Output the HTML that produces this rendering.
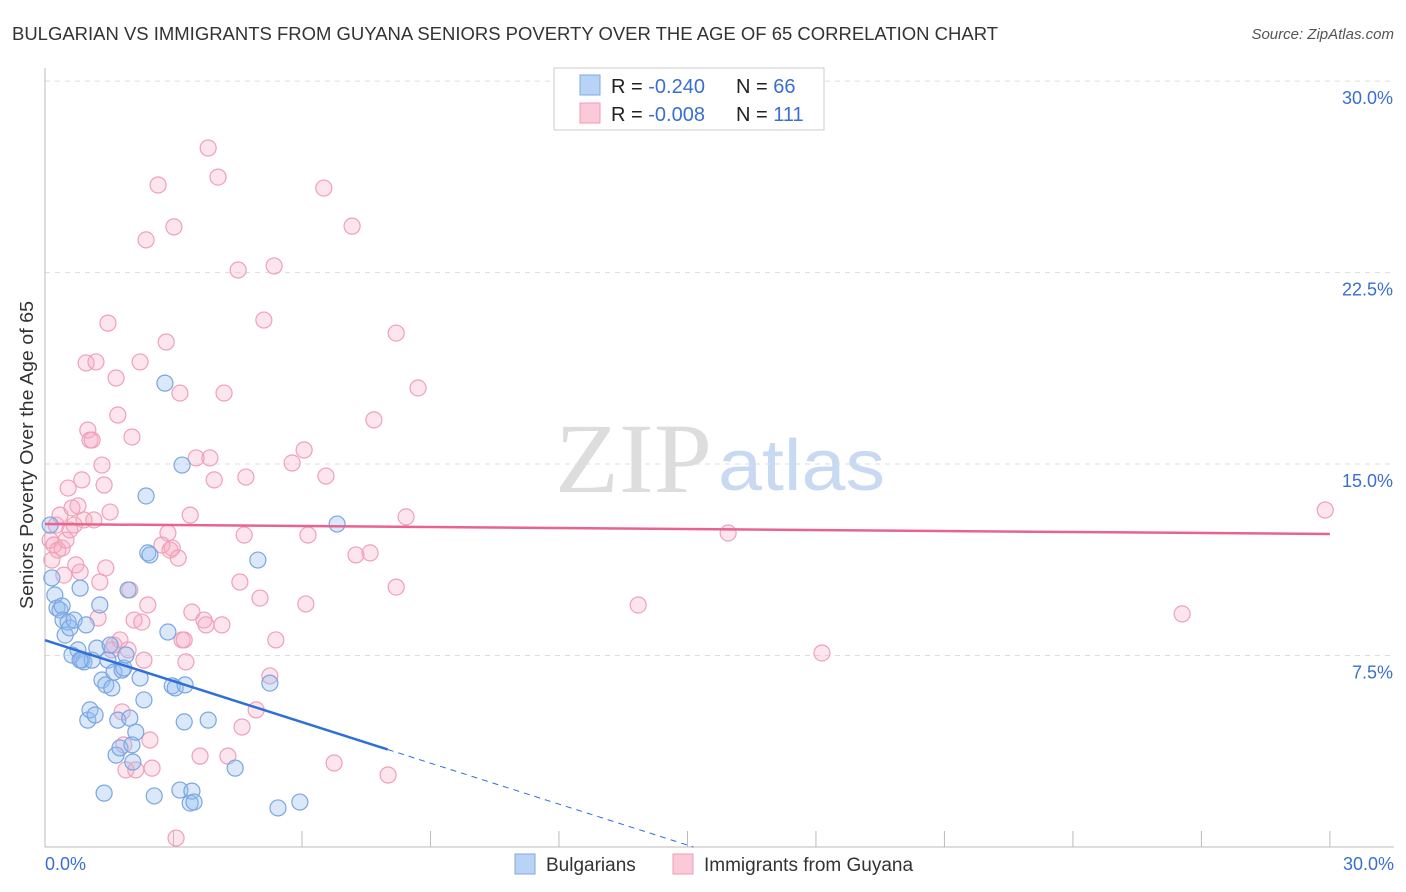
<!DOCTYPE html>
<html><head><meta charset="utf-8"><style>
body{margin:0;background:#fff;font-family:"Liberation Sans",sans-serif;}
svg{display:block}
</style></head><body>
<svg id="chart" width="1406" height="892">
<text x="12" y="40" font-size="18" fill="#333" textLength="986" lengthAdjust="spacingAndGlyphs">BULGARIAN VS IMMIGRANTS FROM GUYANA SENIORS POVERTY OVER THE AGE OF 65 CORRELATION CHART</text>
<text x="1394" y="39" font-size="15" fill="#555" font-style="italic" text-anchor="end">Source: ZipAtlas.com</text>
<text transform="translate(33,455) rotate(-90)" font-size="18" fill="#333" text-anchor="middle" textLength="308" lengthAdjust="spacingAndGlyphs">Seniors Poverty Over the Age of 65</text>
<text x="555" y="492" font-size="100" fill="#ddd" font-family="Liberation Serif,serif" textLength="157" lengthAdjust="spacingAndGlyphs">ZIP</text>
<text x="718" y="490" font-size="72" fill="#c8daf2" textLength="167" lengthAdjust="spacingAndGlyphs">atlas</text>
<g id="grid"></g><g id="pink"></g><g id="blue"></g><g id="lines"></g>
<g>
<rect x="554" y="68" width="270" height="62" fill="#fff" stroke="#ccc"/>
<rect x="580" y="75" width="20" height="20" fill="#b9d3f6" stroke="#7fa8e0"/>
<rect x="580" y="103" width="20" height="20" fill="#fbc9d8" stroke="#f09ab5"/>
<text x="611" y="93" font-size="20" fill="#222">R = <tspan fill="#3a6fd0">-0.240</tspan><tspan x="736">N = </tspan><tspan fill="#3a6fd0">66</tspan></text>
<text x="611" y="121" font-size="20" fill="#222">R = <tspan fill="#3a6fd0">-0.008</tspan><tspan x="736">N = </tspan><tspan fill="#3a6fd0">111</tspan></text>
</g>
<g>
<rect x="515" y="854" width="20" height="20" fill="#b9d3f6" stroke="#7fa8e0"/>
<text x="546" y="871" font-size="19" fill="#333">Bulgarians</text>
<rect x="673" y="854" width="20" height="20" fill="#fbc9d8" stroke="#f09ab5"/>
<text x="704" y="871" font-size="19" fill="#333">Immigrants from Guyana</text>
</g>
</svg>
<script>
const blueX=[0.12,0.16,0.23,0.28,0.35,0.40,0.42,0.47,0.54,0.58,0.63,0.68,0.77,0.82,0.86,0.91,0.96,1.00,1.05,1.10,1.17,1.21,1.28,1.33,1.38,1.42,1.47,1.52,1.56,1.61,1.66,1.70,1.75,1.80,1.84,1.89,1.94,1.98,2.03,2.05,2.12,2.22,2.31,2.36,2.40,2.45,2.55,2.80,2.87,2.97,3.04,3.15,3.20,3.25,3.27,3.39,3.43,3.48,3.81,4.44,4.97,5.25,5.44,5.95,6.82,0.82];
const blueY=[12.61,10.54,9.87,9.36,9.28,9.44,8.89,8.30,8.81,8.58,7.52,8.89,7.72,10.14,7.32,7.25,8.70,4.97,5.37,7.32,5.17,7.79,9.48,6.54,2.11,6.35,7.32,7.91,6.23,6.85,3.60,4.97,3.88,6.93,7.01,7.52,10.07,5.05,4.00,3.33,4.50,6.62,5.76,13.75,11.52,11.44,2.00,18.17,8.42,6.31,6.23,2.23,14.96,4.90,6.35,1.72,2.19,1.76,4.97,3.09,11.24,6.42,1.53,1.76,12.65,7.32];
const pinkX=[0.12,0.16,0.21,0.26,0.30,0.35,0.40,0.44,0.49,0.54,0.58,0.63,0.68,0.72,0.77,0.82,0.86,0.91,0.96,1.00,1.05,1.10,1.14,1.19,1.24,1.28,1.33,1.38,1.42,1.47,1.52,1.56,1.61,1.66,1.70,1.75,1.80,1.84,1.89,1.94,1.98,2.03,2.08,2.12,2.22,2.26,2.31,2.36,2.40,2.45,2.50,2.64,2.73,2.83,2.87,2.92,2.97,3.01,3.06,3.11,3.15,3.20,3.25,3.29,3.39,3.43,3.53,3.62,3.71,3.76,3.81,3.85,3.95,4.04,4.13,4.18,4.27,4.55,4.51,4.60,4.65,4.69,4.93,5.02,5.11,5.25,5.35,5.39,5.77,6.05,6.09,6.14,6.51,6.56,6.75,7.17,7.26,7.59,7.68,8.20,8.20,8.01,8.43,8.71,13.85,15.95,18.14,26.55,29.89];
const pinkY=[12.02,11.24,11.83,12.61,11.63,13.00,11.71,10.65,12.02,14.06,12.42,13.28,12.61,11.05,13.36,10.77,14.38,12.81,18.96,16.33,15.94,15.94,12.81,19.00,8.97,10.38,14.96,14.18,10.93,20.52,13.12,7.72,7.91,18.37,16.92,8.11,5.29,4.00,3.02,7.72,10.07,16.06,8.89,3.02,19.00,8.81,7.32,23.78,9.48,4.19,3.09,25.93,11.83,19.78,12.30,11.63,11.71,24.29,0.35,11.32,17.78,8.11,8.11,7.25,13.00,9.20,15.24,3.56,8.89,8.70,27.38,15.24,14.38,26.24,8.70,17.78,3.56,10.38,22.60,4.70,12.22,14.49,5.37,9.75,20.64,6.70,22.76,8.11,15.04,15.55,9.52,12.22,25.81,14.53,3.29,24.32,11.44,11.52,16.73,20.13,10.18,2.82,12.93,17.98,9.48,12.30,7.60,9.13,13.20];
const yTicks=[7.5,15.0,22.5,30.0];
const xTicks=[0,3,6,9,12,15,18,21,24,27,30];
const blueFit=[8.1,-0.535], pinkFit=[12.65,-0.013];
const NS='http://www.w3.org/2000/svg';
const X=v=>45+v*42.83, Y=v=>847-v*25.53;
function mk(p,t,a){const e=document.createElementNS(NS,t);for(const k in a)e.setAttribute(k,a[k]);p.appendChild(e);return e;}
const grid=document.getElementById('grid');
yTicks.forEach(t=>{
 const l=mk(grid,'line',{x1:45,x2:1394,y1:Y(t),y2:Y(t),stroke:'#ddd','stroke-dasharray':'5,5'});
 
 
 const tx=mk(grid,'text',{x:1393,y:Y(t)+23,'font-size':18,fill:'#3a6fd0','text-anchor':'end'});tx.textContent=t.toFixed(1)+'%';
 
 
});
mk(grid,'line',{x1:45,x2:45,y1:68,y2:847,stroke:'#bbb'});
mk(grid,'line',{x1:45,x2:1394,y1:847,y2:847,stroke:'#bbb'});
xTicks.forEach(t=>{const l=mk(grid,'line',{x1:X(t),x2:X(t),y1:831,y2:847,stroke:'#bbb'});
 
 });
[[0,'start',45],[30,'end',1394]].forEach(([t,a,x])=>{const tx=mk(grid,'text',{x:x,y:870,'font-size':18,fill:'#3a6fd0','text-anchor':a});tx.textContent=t.toFixed(1)+'%';
 
 });
const pg=document.getElementById('pink');
pinkX.forEach((x,i)=>{const c=mk(pg,'circle',{cx:X(x),cy:Y(pinkY[i]),r:8,fill:'rgba(248,170,195,0.3)',stroke:'#f0a0b8','stroke-width':1.2});
 
 });
const bg=document.getElementById('blue');
blueX.forEach((x,i)=>{const c=mk(bg,'circle',{cx:X(x),cy:Y(blueY[i]),r:8,fill:'rgba(150,190,240,0.35)',stroke:'#7aa6e0','stroke-width':1.2});
 
 });
const lg=document.getElementById('lines');
const bx1=8.0,bx2=-blueFit[0]/blueFit[1];
const bl=mk(lg,'line',{x1:X(0),y1:Y(blueFit[0]),x2:X(bx1),y2:Y(blueFit[0]+blueFit[1]*bx1),stroke:'#2f6fd8','stroke-width':2.5});


const bd=mk(lg,'line',{x1:X(bx1),y1:Y(blueFit[0]+blueFit[1]*bx1),x2:X(bx2),y2:Y(0),stroke:'#2f6fd8','stroke-width':1,'stroke-dasharray':'6,5'});


const pl=mk(lg,'line',{x1:X(0),y1:Y(pinkFit[0]),x2:X(30),y2:Y(pinkFit[0]+pinkFit[1]*30),stroke:'#e8648e','stroke-width':2.5});


</script>
</body></html>
